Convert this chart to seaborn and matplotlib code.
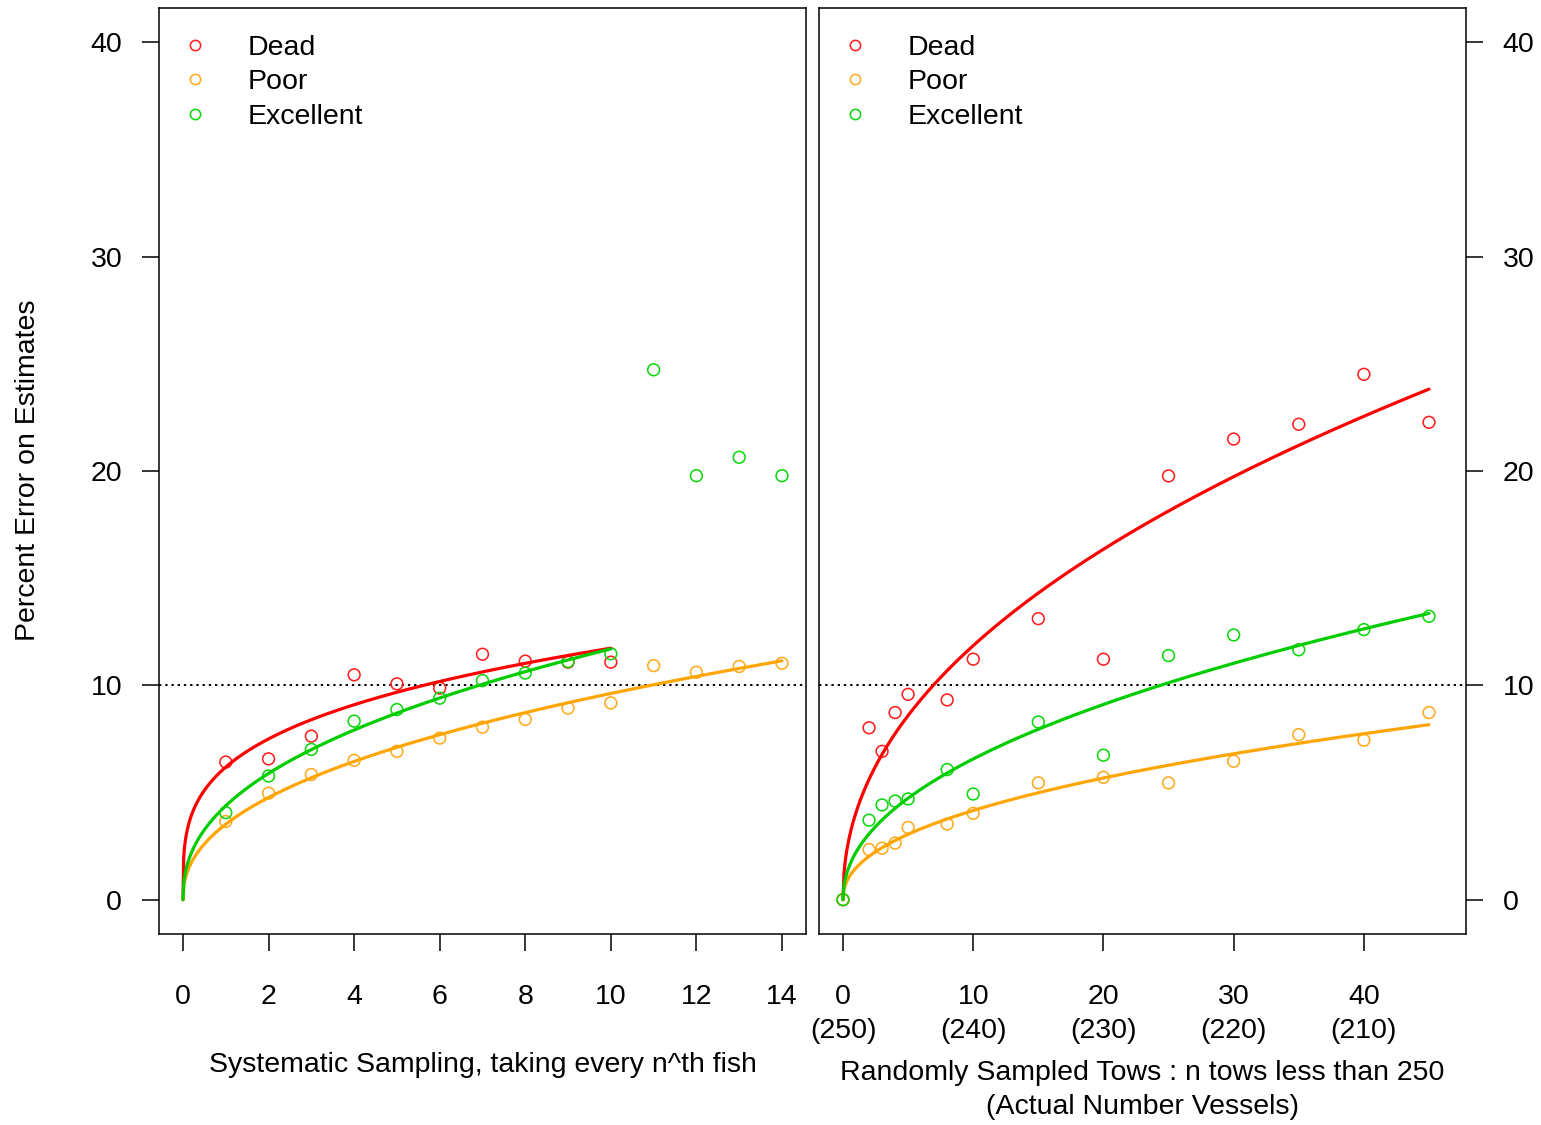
import numpy as np
import pandas as pd
import matplotlib
matplotlib.use("Agg")
import matplotlib.pyplot as plt
from matplotlib.lines import Line2D
import seaborn as sns

# ---- data -------------------------------------------------------------
# Systematic sampling (every n-th fish)
sys_n = [1, 2, 3, 4, 5, 6, 7, 8, 9, 10, 11, 12, 13, 14]
sys_dead = [6.42, 6.57, 7.63, 10.49, 10.07, 9.87, 11.45, 11.13, 11.08, 11.08]
sys_poor = [3.65, 4.97, 5.84, 6.50, 6.92, 7.54, 8.05, 8.41, 8.94, 9.18,
            10.92, 10.61, 10.88, 11.03]
sys_excellent = [4.06, 5.77, 7.01, 8.33, 8.87, 9.40, 10.22, 10.57, 11.11,
                 11.47, 24.72, 19.78, 20.64, 19.78]
sys_fit_max = {"Dead": 10, "Poor": 14, "Excellent": 10}

# Randomly sampled tows (n tows less than 250)
tow_n = [0, 2, 3, 4, 5, 8, 10, 15, 20, 25, 30, 35, 40, 45]
tow_dead = [0, 8.02, 6.92, 8.73, 9.58, 9.32, 11.22, 13.11, 11.22, 19.77,
            21.49, 22.18, 24.51, 22.27]
tow_poor = [0, 2.34, 2.40, 2.64, 3.37, 3.53, 4.03, 5.45, 5.71, 5.45,
            6.46, 7.70, 7.44, 8.73]
tow_excellent = [0, 3.71, 4.42, 4.60, 4.70, 6.07, 4.93, 8.29, 6.74, 11.39,
                 12.35, 11.66, 12.60, 13.22]
tow_ticks = [0, 10, 20, 30, 40]
tow_vessels = [250, 240, 230, 220, 210]

categories = ["Dead", "Poor", "Excellent"]
palette = {"Dead": "#FF0000", "Poor": "#FFA500", "Excellent": "#00CD00"}
point_palette = {"Dead": "#FF2020", "Poor": "#FFAA20", "Excellent": "#10D810"}


def long_frame(x, series):
    rows = []
    for cat, vals in series.items():
        for xi, yi in zip(x, vals):
            rows.append((xi, yi, cat))
    return pd.DataFrame(rows, columns=["n", "err", "status"])


def power_fit(x, y):
    """Least-squares fit of err = a * n^b."""
    x = np.asarray(x, float)
    y = np.asarray(y, float)
    best = None
    for b in np.linspace(0.05, 1.5, 2901):
        xb = x ** b
        a = (xb @ y) / (xb @ xb)
        sse = ((y - a * xb) ** 2).sum()
        if best is None or sse < best[0]:
            best = (sse, a, b)
    return best[1], best[2]


def fit_frame(df, xmax_by_cat):
    rows = []
    for cat in categories:
        sub = df[(df.status == cat) & (df.n <= xmax_by_cat[cat])]
        a, b = power_fit(sub.n, sub.err)
        grid = np.linspace(0, xmax_by_cat[cat], 600)
        rows.append(pd.DataFrame({"n": grid, "err": a * grid ** b,
                                  "status": cat}))
    return pd.concat(rows, ignore_index=True)


sys_df = long_frame(sys_n, {"Dead": sys_dead, "Poor": sys_poor,
                            "Excellent": sys_excellent})
tow_df = long_frame(tow_n, {"Dead": tow_dead, "Poor": tow_poor,
                            "Excellent": tow_excellent})
sys_fit = fit_frame(sys_df, sys_fit_max)
tow_fit = fit_frame(tow_df, {c: max(tow_n) for c in categories})

# ---- style ------------------------------------------------------------
sns.set_style("ticks")
plt.rcParams["font.family"] = ["Liberation Sans", "DejaVu Sans"]
FS = 20.5
plt.rcParams.update({
    "axes.linewidth": 1.1,
    "xtick.major.width": 1.1,
    "ytick.major.width": 1.1,
    "xtick.major.size": 12.5,
    "ytick.major.size": 12.5,
    "xtick.color": "black",
    "ytick.color": "black",
    "axes.edgecolor": "black",
    "axes.labelcolor": "black",
    "text.color": "black",
})

fig = plt.figure(figsize=(15.41, 11.25), dpi=100)
ax1 = fig.add_axes([0.1032, 0.1698, 0.4198, 0.8231])
ax2 = fig.add_axes([0.5315, 0.1698, 0.4198, 0.8231])


def draw_panel(ax, pts, fit):
    sns.scatterplot(data=pts, x="n", y="err", hue="status",
                    hue_order=categories, palette=point_palette,
                    marker="o", s=72, linewidth=1.15, legend=False,
                    ax=ax, zorder=3)
    # open circles: move the fill colour onto the edge
    coll = ax.collections[-1]
    coll.set_edgecolors(coll.get_facecolors())
    coll.set_facecolors("none")
    sns.lineplot(data=fit, x="n", y="err", hue="status",
                 hue_order=categories, palette=palette, linewidth=2.3,
                 legend=False, ax=ax, zorder=4, sort=True)
    ax.axhline(10, color="black", linestyle=(0, (1.2, 2.0)), linewidth=1.4,
               zorder=2)
    ax.set_ylim(-1.6, 41.6)
    ax.set_yticks([0, 10, 20, 30, 40])
    handles = [Line2D([], [], linestyle="none", marker="o", markersize=7.4,
                      markerfacecolor="none", markeredgewidth=1.15,
                      markeredgecolor=point_palette[c]) for c in categories]
    ax.legend(handles, categories, loc="upper left", frameon=False,
              bbox_to_anchor=(0.0, 1.0 - 7.0 / 926.0),
              fontsize=FS, borderaxespad=0.2, borderpad=0.51,
              handlelength=1.08, handletextpad=1.31, labelspacing=0.29)
    for sp in ax.spines.values():
        sp.set_visible(True)
    ax.set_xlabel("")
    ax.set_ylabel("")


draw_panel(ax1, sys_df, sys_fit)
draw_panel(ax2, tow_df, tow_fit)

# left panel axes
ax1.set_xlim(-0.56, 14.56)
ax1.set_xticks(list(range(0, 15, 2)))
ax1.tick_params(axis="x", labelsize=FS, pad=23.5)
ax1.tick_params(axis="y", labelsize=FS, pad=14)
ax1.set_xlabel("Systematic Sampling, taking every n^th fish", fontsize=FS,
               va="center")
ax1.xaxis.set_label_coords(0.5, -0.1415)
ax1.set_ylabel("Percent Error on Estimates", fontsize=FS, va="center")
ax1.yaxis.set_label_coords(-0.203, 0.501)

# right panel axes
ax2.set_xlim(-1.84, 47.84)
ax2.set_xticks(tow_ticks)
ax2.set_xticklabels([f"{t}\n({v})" for t, v in zip(tow_ticks, tow_vessels)])
for lbl in ax2.get_xticklabels():
    lbl.set_linespacing(1.4)
ax2.tick_params(axis="x", labelsize=FS, pad=23.5)
ax2.yaxis.tick_right()
ax2.tick_params(axis="y", labelsize=FS, pad=14, left=False, right=True)
ax2.set_xlabel("Randomly Sampled Tows : n tows less than 250\n"
               "(Actual Number Vessels)", fontsize=FS, va="center",
               linespacing=1.4)
ax2.xaxis.set_label_coords(0.5, -0.168)

fig.savefig("out.png", dpi=100)
